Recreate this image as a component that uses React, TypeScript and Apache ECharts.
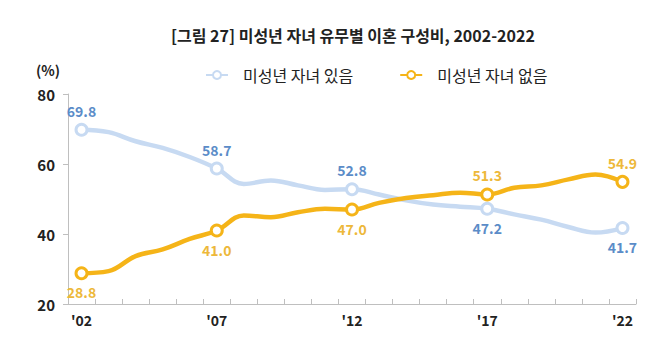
import React, { useEffect, useRef } from "react";
import * as echarts from "echarts";

const years = ["'02","'03","'04","'05","'06","'07","'08","'09","'10","'11","'12","'13","'14","'15","'16","'17","'18","'19","'20","'21","'22"];
const labelYears = ["'02", "'07", "'12", "'17", "'22"];
const withChildren = [69.8, 69.1, 66.5, 64.6, 62.0, 58.7, 54.3, 55.3, 53.9, 52.6, 52.8, 51.3, 49.6, 48.4, 47.8, 47.2, 45.6, 44.1, 42.0, 40.4, 41.7];
const withoutChildren = [28.8, 29.4, 33.7, 35.6, 38.6, 41.0, 45.3, 44.8, 46.2, 47.2, 47.0, 48.9, 50.3, 51.1, 51.8, 51.3, 53.2, 53.9, 55.6, 57.0, 54.9];
const blueLabelPos = ["top", "top", "top", "bottom", "bottom"];
const orangeLabelPos = ["bottom", "bottom", "bottom", "top", "top"];
const yTicks = [20, 40, 60, 80];

const FONT = "'Noto Sans CJK KR', 'Noto Sans', sans-serif";

function buildData(values: number[], positions: string[], labelColor: string) {
  return values.map((v, i) => {
    const li = labelYears.indexOf(years[i]);
    if (li < 0) return { value: v, symbol: "none", label: { show: false } };
    return {
      value: v,
      symbol: "circle",
      symbolSize: 11,
      label: {
        show: true,
        position: positions[li],
        distance: 5,
        formatter: (p: any) => Number(p.value).toFixed(1),
        color: labelColor,
        fontSize: 14,
        fontWeight: "bold",
        fontFamily: FONT,
      },
    };
  });
}

export default function App() {
  const ref = useRef<HTMLDivElement>(null);
  useEffect(() => {
    if (!ref.current) return;
    const chart = echarts.init(ref.current, null, { renderer: "svg" });
    const blueLine = "#C7DAF2";
    const blueLabel = "#5B8CC8";
    const orangeLine = "#F5B418";
    const orangeLabel = "#EDB83A";
    chart.setOption({
      animation: false,
      backgroundColor: "#ffffff",
      title: {
        text: "[그림 27] 미성년 자녀 유무별 이혼 구성비, 2002-2022",
        left: 166,
        top: 22,
        textStyle: { fontSize: 16, fontWeight: "bold", color: "#222", fontFamily: FONT },
      },
      legend: {
        top: 62,
        left: 200,
        itemGap: 46,
        itemWidth: 22,
        itemHeight: 10,
        textStyle: { fontSize: 16, color: "#222", fontFamily: FONT, padding: [0, 0, 0, 10] },
        data: ["미성년 자녀 있음", "미성년 자녀 없음"],
      },
      graphic: [
        {
          type: "text",
          left: 36,
          top: 63,
          style: { text: "(%)", fontSize: 14, fontWeight: "bold", fill: "#222", fontFamily: FONT },
        },
      ],
      grid: { left: 68, right: 30, top: 94, bottom: 47, containLabel: false },
      xAxis: {
        type: "category",
        data: years,
        boundaryGap: true,
        axisLine: { lineStyle: { color: "#BFBFBF", width: 1 } },
        axisTick: { show: true, inside: true, length: 5, lineStyle: { color: "#BFBFBF" } },
        axisLabel: {
          interval: 0,
          formatter: (v: string) => (labelYears.includes(v) ? v : ""),
          fontSize: 14,
          fontWeight: "bold",
          color: "#222",
          fontFamily: FONT,
          margin: 9,
        },
      },
      yAxis: {
        type: "value",
        min: yTicks[0],
        max: yTicks[yTicks.length - 1],
        interval: 20,
        axisLine: { show: true, lineStyle: { color: "#BFBFBF" } },
        axisTick: { show: true, length: 5, lineStyle: { color: "#BFBFBF" } },
        splitLine: { show: false },
        axisLabel: { fontSize: 15, fontWeight: "bold", color: "#222", fontFamily: FONT, margin: 13 },
      },
      series: [
        {
          name: "미성년 자녀 있음",
          type: "line",
          smooth: 0.4,
          symbol: "circle",
          symbolSize: 11,
          lineStyle: { color: blueLine, width: 4.5 },
          itemStyle: { color: "#ffffff", borderColor: blueLine, borderWidth: 3 },
          data: buildData(withChildren, blueLabelPos, blueLabel),
          z: 2,
        },
        {
          name: "미성년 자녀 없음",
          type: "line",
          smooth: 0.4,
          symbol: "circle",
          symbolSize: 11,
          lineStyle: { color: orangeLine, width: 4.5 },
          itemStyle: { color: "#ffffff", borderColor: orangeLine, borderWidth: 3 },
          data: buildData(withoutChildren, orangeLabelPos, orangeLabel),
          z: 3,
        },
      ],
    });
    return () => chart.dispose();
  }, []);
  return <div ref={ref} style={{ width: 666, height: 351, position: "absolute", left: 0, top: 0 }} />;
}
